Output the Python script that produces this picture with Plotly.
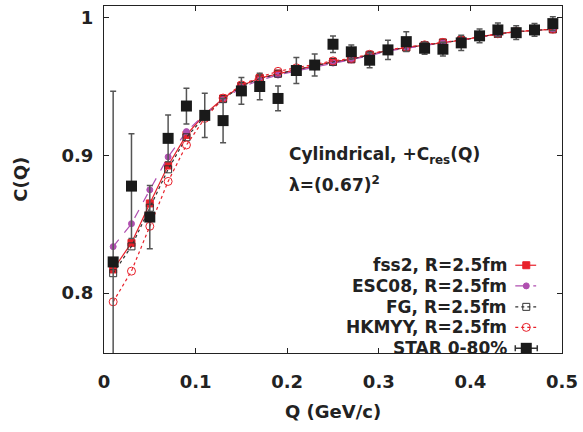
import plotly.graph_objects as go

# ---- data ----
q = [0.01, 0.03, 0.05, 0.07, 0.09, 0.11, 0.13, 0.15, 0.17, 0.19, 0.21, 0.23, 0.25,
     0.27, 0.29, 0.31, 0.33, 0.35, 0.37, 0.39, 0.41, 0.43, 0.45, 0.47, 0.49]

star = [0.8227, 0.8778, 0.8553, 0.9125, 0.9360, 0.9292, 0.9254, 0.9470, 0.9502, 0.9415,
        0.9618, 0.9658, 0.9809, 0.9754, 0.9693, 0.9768, 0.9828, 0.9780, 0.9773, 0.9819,
        0.9870, 0.9913, 0.9893, 0.9913, 0.9959]
star_err = [0.124, 0.038, 0.023, 0.017, 0.013, 0.016, 0.016, 0.0097, 0.0097, 0.009,
            0.0095, 0.008, 0.006, 0.005, 0.0055, 0.007, 0.0072, 0.0044, 0.005, 0.0055,
            0.005, 0.005, 0.005, 0.0046, 0.005]

fss2 = [0.8172, 0.8365, 0.8652, 0.8928, 0.9150, 0.9300, 0.9415, 0.9507, 0.9563, 0.9596,
        0.9625, 0.9652, 0.9681, 0.9700, 0.9732, 0.9765, 0.9785, 0.9802, 0.9821, 0.9838,
        0.9862, 0.9884, 0.9900, 0.9910, 0.9918]
esc08 = [0.8338, 0.8505, 0.8751, 0.8990, 0.9174, 0.9300, 0.9405, 0.9495, 0.9548, 0.9585,
         0.9615, 0.9643, 0.9672, 0.9695, 0.9725, 0.9760, 0.9780, 0.9798, 0.9818, 0.9835,
         0.9860, 0.9882, 0.9898, 0.9908, 0.9916]
fg = [0.8145, 0.8340, 0.8621, 0.8900, 0.9133, 0.9285, 0.9410, 0.9505, 0.9560, 0.9595,
      0.9625, 0.9652, 0.9681, 0.9700, 0.9732, 0.9765, 0.9785, 0.9802, 0.9821, 0.9838,
      0.9862, 0.9884, 0.9900, 0.9910, 0.9918]
hkmyy = [0.7937, 0.8160, 0.8486, 0.8812, 0.9077, 0.9270, 0.9418, 0.9514, 0.9570, 0.9612,
         0.9638, 0.9662, 0.9688, 0.9706, 0.9736, 0.9768, 0.9788, 0.9805, 0.9823, 0.9840,
         0.9864, 0.9885, 0.9901, 0.9911, 0.9919]

x_ticks = [0, 0.1, 0.2, 0.3, 0.4, 0.5]
x_ticktext = ["0", "0.1", "0.2", "0.3", "0.4", "0.5"]
y_ticks = [0.8, 0.9, 1.0]
y_ticktext = ["0.8", "0.9", "1"]

legend_labels = ["fss2, R=2.5fm", "ESC08, R=2.5fm", "FG, R=2.5fm",
                 "HKMYY, R=2.5fm", "STAR 0-80%"]

FONT = "DejaVu Sans"
RED = "#e8202a"
PURPLE = "#b04fb0"
GRAY = "#333333"

styles = [
    dict(color=RED, dash="solid", symbol="square", size=7, mcolor=RED, mline=RED),
    dict(color=PURPLE, dash="dash", symbol="circle", size=6, mcolor=PURPLE, mline=PURPLE),
    dict(color=GRAY, dash="3px,3px", symbol="square-open", size=7, mcolor=GRAY, mline=GRAY),
    dict(color=RED, dash="dot", symbol="circle-open", size=8, mcolor=RED, mline=RED),
]
series = [fss2, esc08, fg, hkmyy]

fig = go.Figure()

for vals, st in zip(series, styles):
    fig.add_trace(go.Scatter(
        x=q, y=vals, mode="lines+markers",
        line=dict(color=st["color"], width=1.2, dash=st["dash"]),
        marker=dict(symbol=st["symbol"], size=st["size"], color=st["mcolor"],
                    line=dict(color=st["mline"], width=1)),
        showlegend=False, cliponaxis=True))

fig.add_trace(go.Scatter(
    x=q, y=star, mode="markers",
    marker=dict(symbol="square", size=11, color="#1a1a1a"),
    error_y=dict(type="data", array=star_err, color="#555555", thickness=1.5, width=3),
    showlegend=False))

# ---- custom legend (text on the left, sample on the right) ----
leg_y = [0.2529, 0.1934, 0.1330, 0.0739, 0.0135]
leg_x0, leg_xm, leg_x1 = 0.898, 0.922, 0.9436
for i, st in enumerate(styles):
    fig.add_trace(go.Scatter(
        x=[leg_x0, leg_x1], y=[leg_y[i]] * 2, xaxis="x2", yaxis="y2",
        mode="lines", line=dict(color=st["color"], width=1.2, dash=st["dash"]),
        showlegend=False, hoverinfo="skip"))
    fig.add_trace(go.Scatter(
        x=[leg_xm], y=[leg_y[i]], xaxis="x2", yaxis="y2", mode="markers",
        marker=dict(symbol=st["symbol"], size=st["size"], color=st["mcolor"],
                    line=dict(color=st["mline"], width=1)),
        showlegend=False, hoverinfo="skip"))
fig.add_trace(go.Scatter(
    x=[leg_xm], y=[leg_y[4]], xaxis="x2", yaxis="y2", mode="markers",
    marker=dict(symbol="square", size=11, color="#1a1a1a"),
    error_x=dict(type="constant", value=leg_xm - leg_x0, color="#333333",
                 thickness=1.5, width=3),
    showlegend=False, hoverinfo="skip"))

annotations = []
for lab, yy in zip(legend_labels, leg_y):
    annotations.append(dict(
        x=0.884, y=yy, xref="paper", yref="paper", text=lab, showarrow=False,
        xanchor="right", yanchor="middle",
        font=dict(family=FONT, size=17, color="#222222", weight="bold")))

annotations.append(dict(
    x=0.2, y=0.9, xref="x", yref="y", text="Cylindrical, +C<sub>res</sub>(Q)",
    showarrow=False, xanchor="left", yanchor="middle",
    font=dict(family=FONT, size=17, color="#222222", weight="bold")))
annotations.append(dict(
    x=0.2, y=0.879, xref="x", yref="y", text="λ=(0.67)<sup>2</sup>",
    showarrow=False, xanchor="left", yanchor="middle",
    font=dict(family=FONT, size=17, color="#222222", weight="bold")))
annotations.append(dict(
    x=0.5, y=-0.1695, xref="paper", yref="paper", text="Q (GeV/c)",
    showarrow=False, xanchor="center", yanchor="middle",
    font=dict(family=FONT, size=18, color="#222222", weight="bold")))
annotations.append(dict(
    x=-0.183, y=0.5, xref="paper", yref="paper", text="C(Q)", textangle=-90,
    showarrow=False, xanchor="center", yanchor="middle",
    font=dict(family=FONT, size=18, color="#222222", weight="bold")))

axis_common = dict(showline=True, linecolor="#222222", linewidth=1, mirror="ticks",
                   ticks="inside", ticklen=5, tickcolor="#222222", showgrid=False,
                   zeroline=False,
                   tickfont=dict(family=FONT, size=18, color="#222222", weight="bold"))

fig.update_layout(
    width=583, height=432,
    margin=dict(l=104, r=17, t=5, b=79),
    plot_bgcolor="white", paper_bgcolor="white",
    xaxis=dict(range=[0, 0.5], tickvals=x_ticks, ticktext=x_ticktext,
               ticklabelstandoff=12, **axis_common),
    yaxis=dict(range=[0.7565, 1.0087], tickvals=y_ticks, ticktext=y_ticktext,
               ticklabelstandoff=6, **axis_common),
    xaxis2=dict(overlaying="x", range=[0, 1], visible=False),
    yaxis2=dict(overlaying="y", range=[0, 1], visible=False),
    annotations=annotations,
    showlegend=False,
)

fig.write_html("out.html", config={"displayModeBar": False},
               post_script="document.body.style.margin='0';document.body.style.overflow='hidden';")
